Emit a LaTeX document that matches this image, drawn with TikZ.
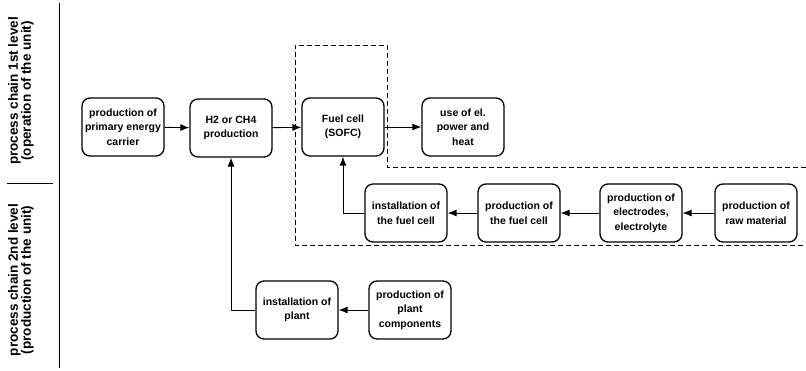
\documentclass[tikz,border=0pt]{standalone}
\usepackage{fontspec}
\setmainfont{Liberation Sans}
\usetikzlibrary{arrows.meta}
\begin{document}
\begin{tikzpicture}[x=1pt,y=-1pt,
  box/.style={draw,line width=1.3pt,rounded corners=8pt,minimum width=82pt,minimum height=58pt,
    align=center,inner sep=2pt,font=\bfseries\fontsize{10.5}{14.5}\selectfont},
  flow/.style={-{Latex[length=9pt,width=7pt]},line width=0.9pt},
  zone/.style={line width=0.9pt,dash pattern=on 5pt off 3pt},
  lvl/.style={rotate=90,align=center,inner sep=0pt,font=\bfseries\fontsize{13.5}{13}\selectfont}]
\useasboundingbox (0,0) rectangle (806,371);
% levels of the process chain
\draw [line width=0.9pt] (59,3) -- (59,368);
\draw [line width=0.6pt] (7,183) -- (53,183);
\node [lvl] (lvlone) at (21,91) {process chain 1st level\\(operation of the unit)};
\node [lvl] (lvltwo) at (21,280) {process chain 2nd level\\(production of the unit)};
% border of the unit
\draw [zone] (806,167) -- (387,167) -- (387,45) -- (295,45) -- (295,245) -- (806,245);
% 1st level
\node [box] (prim) at (123,127) {production of\\primary energy\\carrier};
\node [box] (gas) at (231,128) {H2 or CH4\\production};
\node [box] (cell) at (343,127) {Fuel cell\\(SOFC)};
\node [box] (use) at (463,127) {use of el.\\power and\\heat};
% 2nd level, fuel cell
\node [box] (inst) at (406,213) {installation of\\the fuel cell};
\node [box] (fab) at (519,213) {production of\\the fuel cell};
\node [box] (elec) at (641,213) {production of\\electrodes,\\electrolyte};
\node [box] (raw) at (756,213) {production of\\raw material};
% 2nd level, plant
\node [box] (plant) at (297,310) {installation of\\plant};
\node [box] (comp) at (410,310) {production of\\plant\\components};
% connectors
\draw [flow] (prim) -- (gas);
\draw [flow] (gas) -- (cell);
\draw [flow] (cell) -- (use);
\draw [flow] (raw) -- (elec);
\draw [flow] (elec) -- (fab);
\draw [flow] (fab) -- (inst);
\draw [flow] (inst.west) -| (cell.south);
\draw [flow] (comp) -- (plant);
\draw [flow] (plant.west) -| (gas.south);
\end{tikzpicture}
\end{document}
